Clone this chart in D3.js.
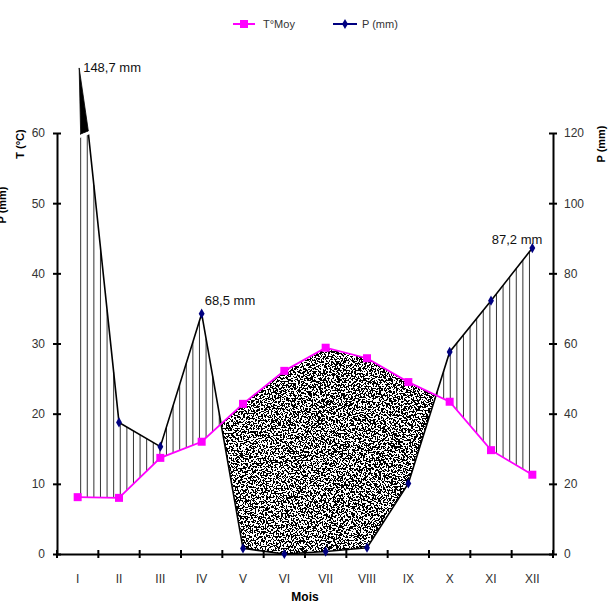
<!DOCTYPE html>
<html>
<head>
<meta charset="utf-8">
<script src="https://cdn.jsdelivr.net/npm/d3@7"></script>
<style>
  body { margin: 0; background: #fff; }
  text { font-family: Arial, "Liberation Sans", sans-serif; }
</style>
</head>
<body>
<svg id="chart" width="609" height="603"></svg>
<script>
// Diagramme ombrothermique : T moyenne (°C) et P (mm), P = 2T
var months = ["I", "II", "III", "IV", "V", "VI", "VII", "VIII", "IX", "X", "XI", "XII"];
var tempMoy = [8.1, 8.0, 13.7, 16.0, 21.4, 26.1, 29.4, 27.9, 24.5, 21.7, 14.8, 11.3];
var precip = [148.7, 37.5, 30.6, 68.5, 1.6, 0, 0.7, 1.8, 20.1, 57.6, 72.2, 87.2];
var tempTicks = [0, 10, 20, 30, 40, 50, 60];
var precipTicks = [0, 20, 40, 60, 80, 100, 120];
var labelledMonths = [0, 3, 11];

// plot box (note: "top" is taken by window.top)
var pL = 57, pR = 553, pT = 133, pB = 554;

var svg = d3.select("#chart");

var x = d3.scaleBand().domain(months).range([pL, pR]);
var yT = d3.scaleLinear().domain([0, 60]).range([pB, pT]);
var yP = d3.scaleLinear().domain([0, 120]).range([pB, pT]);
// above the axis max, the january peak is drawn on a squeezed scale
var yBreak = d3.scaleLinear().domain([120, 150]).range([pT, pT - 68]);

var cx = months.map(function (m) { return x(m) + x.bandwidth() / 2; });
var tPts = tempMoy.map(function (v, i) { return [cx[i], yT(v)]; });
var pPts = precip.map(function (v, i) { return [cx[i], yP(v)]; });

function lerpY(pts, px) {
  for (var i = 0; i < pts.length - 1; i++) {
    if (px >= pts[i][0] && px <= pts[i + 1][0]) {
      var t = (px - pts[i][0]) / (pts[i + 1][0] - pts[i][0]);
      return pts[i][1] + t * (pts[i + 1][1] - pts[i][1]);
    }
  }
  return null;
}

var defs = svg.append("defs");
defs.append("clipPath").attr("id", "plot")
  .append("rect").attr("x", pL - 10).attr("y", pT).attr("width", pR - pL + 20).attr("height", pB - pT + 10);

// speckled texture for the dry period
var f = defs.append("filter").attr("id", "speckle")
  .attr("filterUnits", "userSpaceOnUse")
  .attr("x", pL).attr("y", pT).attr("width", pR - pL).attr("height", pB - pT);
f.append("feTurbulence").attr("type", "fractalNoise").attr("baseFrequency", "0.6")
  .attr("numOctaves", 3).attr("seed", 7).attr("result", "n");
f.append("feColorMatrix").attr("type", "matrix")
  .attr("values", "0 0 0 0 0  0 0 0 0 0  0 0 0 0 0  1.8 0 0 0 -0.4");
var ct = f.append("feComponentTransfer");
ct.append("feFuncA").attr("type", "discrete").attr("tableValues", "0 1");

// ---- hatching, humid months (P > 2T)
var hatch = svg.append("g").attr("clip-path", "url(#plot)");
for (var px = cx[0] + 3; px <= cx[11] + 0.5; px += 6.6) {
  var a = lerpY(tPts, px), b = lerpY(pPts, px);
  if (a == null || b == null) continue;
  if (b < a - 1) {
    hatch.append("line")
      .attr("x1", px).attr("x2", px)
      .attr("y1", Math.max(b, pT)).attr("y2", a)
      .attr("stroke", "#333").attr("stroke-width", 1);
  }
}

// ---- dry area (P < 2T): polygon between both curves
var dryPolys = [], cur = null;
for (var i = 0; i < months.length - 1; i++) {
  var d0 = pPts[i][1] - tPts[i][1], d1 = pPts[i + 1][1] - tPts[i + 1][1];
  if (d0 > 0 && !cur) cur = { top: [tPts[i]], bot: [pPts[i]] };
  if ((d0 > 0) !== (d1 > 0)) {
    var t = d0 / (d0 - d1);
    var cp = [tPts[i][0] + t * (tPts[i + 1][0] - tPts[i][0]), tPts[i][1] + t * (tPts[i + 1][1] - tPts[i][1])];
    if (!cur) {
      cur = { top: [cp, tPts[i + 1]], bot: [cp, pPts[i + 1]] };
    } else {
      cur.top.push(cp); cur.bot.push(cp);
      dryPolys.push(cur.top.concat(cur.bot.slice().reverse()));
      cur = null;
    }
  } else if (cur && d1 > 0) {
    cur.top.push(tPts[i + 1]); cur.bot.push(pPts[i + 1]);
  }
}
dryPolys.forEach(function (poly, k) {
  defs.append("clipPath").attr("id", "dry" + k)
    .append("polygon").attr("points", poly.map(function (p) { return p.join(","); }).join(" "));
  svg.append("g").attr("clip-path", "url(#dry" + k + ")")
    .append("rect").attr("x", pL).attr("y", pT).attr("width", pR - pL).attr("height", pB - pT)
    .attr("fill", "#fff").attr("filter", "url(#speckle)");
});

// ---- axes
var axL = svg.append("g").attr("transform", "translate(" + pL + ",0)")
  .call(d3.axisLeft(yT).tickValues(tempTicks).tickSize(4).tickPadding(8).tickSizeOuter(0));
var axR = svg.append("g").attr("transform", "translate(" + pR + ",0)")
  .call(d3.axisRight(yP).tickValues(precipTicks).tickSize(4).tickPadding(7).tickSizeOuter(0));
[axL, axR].forEach(function (g) {
  g.select(".domain").attr("stroke", "#000").attr("stroke-width", 2);
  g.selectAll(".tick line").attr("x1", -4).attr("x2", 4).attr("stroke", "#000").attr("stroke-width", 2);
  g.selectAll(".tick text").attr("fill", "#333").style("font-size", "12px");
});
var axB = svg.append("g").attr("transform", "translate(0," + pB + ")")
  .call(d3.axisBottom(x).tickSize(0).tickPadding(20));
axB.select(".domain").attr("stroke", "#000").attr("stroke-width", 2);
axB.selectAll(".tick text").attr("fill", "#333").style("font-size", "12px");
axB.selectAll(".bound").data(months.map(function (m) { return x(m); }).concat([pR]))
  .enter().append("line")
  .attr("x1", function (d) { return d; }).attr("x2", function (d) { return d; })
  .attr("y1", -4).attr("y2", 4).attr("stroke", "#000").attr("stroke-width", 2);

// ---- lines
var line = d3.line();
var plotG = svg.append("g").attr("clip-path", "url(#plot)");
plotG.append("path").attr("d", line(pPts)).attr("fill", "none").attr("stroke", "#000").attr("stroke-width", 1.6);
plotG.append("path").attr("d", line(tPts)).attr("fill", "none").attr("stroke", "#ff00ff").attr("stroke-width", 1.8);

// january peak above the break
var slope = (pPts[1][0] - pPts[0][0]) / (pPts[1][1] - pPts[0][1]);
var xc = pPts[0][0] + (pT - pPts[0][1]) * slope;
var apex = [cx[0] + 1.5, yBreak(precip[0])];
svg.append("polygon")
  .attr("points", [apex, [xc, pT - 2], [cx[0] + 3, pT + 1]].map(function (p) { return p.join(","); }).join(" "))
  .attr("fill", "#000").attr("stroke", "#000").attr("stroke-width", 0.8);
svg.append("line")
  .attr("x1", cx[0] + 1).attr("y1", pT + 4).attr("x2", xc + 2).attr("y2", pT - 0.5)
  .attr("stroke", "#fff").attr("stroke-width", 2.6);

// markers
svg.append("g").selectAll("rect").data(tPts).enter().append("rect")
  .attr("x", function (d) { return d[0] - 4; }).attr("y", function (d) { return d[1] - 4; })
  .attr("width", 8).attr("height", 8).attr("fill", "#ff00ff");
var diamond = d3.symbol().type(d3.symbolDiamond).size(30);
svg.append("g").selectAll("path").data(pPts.slice(1)).enter().append("path")
  .attr("d", diamond).attr("transform", function (d) { return "translate(" + d[0] + "," + d[1] + ")"; })
  .attr("fill", "#000080");

// value labels
var fmt = function (v) { return d3.format(".1f")(v).replace(".", ",") + " mm"; };
var offs = { 0: [4, 0, "start"], 3: [3, -13, "start"], 11: [10, -9, "end"] };
labelledMonths.forEach(function (i) {
  var p = i === 0 ? apex : pPts[i];
  svg.append("text").attr("x", p[0] + offs[i][0]).attr("y", p[1] + offs[i][1]).attr("dy", "0.35em")
    .attr("text-anchor", offs[i][2]).style("font-size", "13px").attr("fill", "#111").text(fmt(precip[i]));
});

// axis titles
svg.append("text").attr("transform", "translate(24,144) rotate(-90)").attr("text-anchor", "middle")
  .style("font-size", "11px").style("font-weight", "bold").text("T (°C)");
svg.append("text").attr("transform", "translate(6,205) rotate(-90)").attr("text-anchor", "middle")
  .style("font-size", "11px").style("font-weight", "bold").text("P (mm)");
svg.append("text").attr("transform", "translate(605,144) rotate(-90)").attr("text-anchor", "middle")
  .style("font-size", "11px").style("font-weight", "bold").text("P (mm)");
svg.append("text").attr("x", 305).attr("y", 601).attr("text-anchor", "middle")
  .style("font-size", "12px").style("font-weight", "bold").text("Mois");

// legend
var lg = svg.append("g").attr("transform", "translate(0,24)");
lg.append("line").attr("x1", 233).attr("x2", 255).attr("stroke", "#ff00ff").attr("stroke-width", 2);
lg.append("rect").attr("x", 240).attr("y", -4).attr("width", 8).attr("height", 8).attr("fill", "#ff00ff");
lg.append("text").attr("x", 263).attr("dy", "0.35em").style("font-size", "11px").attr("fill", "#333").text("T°Moy");
lg.append("line").attr("x1", 333).attr("x2", 357).attr("stroke", "#000080").attr("stroke-width", 2);
lg.append("path").attr("d", diamond).attr("transform", "translate(345,0)").attr("fill", "#000080");
lg.append("text").attr("x", 362).attr("dy", "0.35em").style("font-size", "11px").attr("fill", "#333").text("P (mm)");
</script>
</body>
</html>
